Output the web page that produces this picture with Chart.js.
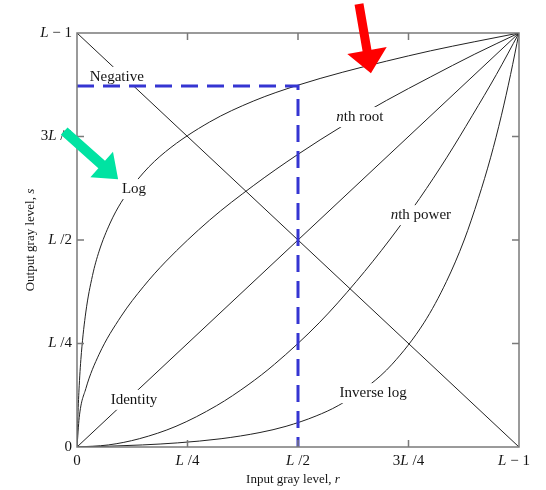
<!DOCTYPE html>
<html>
<head>
<meta charset="utf-8">
<script src="https://cdn.jsdelivr.net/npm/chart.js@4.4.1/dist/chart.umd.min.js"></script>
<style>
  html, body { margin: 0; padding: 0; background: #fff; }
  #wrap { width: 546px; height: 490px; }
</style>
</head>
<body>
<div id="wrap"><canvas id="c" width="546" height="490"></canvas></div>
<script>
// Gray-level transformation curves, input r and output s normalised to [0, L-1] -> [0, 1]
const tickValues = [0, 0.25, 0.5, 0.75, 1];
const tickLabels = ['0', '*L* /4', '*L* /2', '3*L* /4', '*L* − 1'];

const identityCurve = [{x: 0, y: 0}, {x: 1, y: 1}];
const negativeCurve = [{x: 0, y: 1}, {x: 1, y: 0}];

const logCurve = [
  {x: 0, y: 0}, {x: 0.002, y: 0.074}, {x: 0.005, y: 0.148}, {x: 0.01, y: 0.228},
  {x: 0.02, y: 0.326}, {x: 0.035, y: 0.414}, {x: 0.05, y: 0.473}, {x: 0.075, y: 0.541},
  {x: 0.1, y: 0.591}, {x: 0.15, y: 0.662}, {x: 0.2, y: 0.713}, {x: 0.3, y: 0.785},
  {x: 0.4, y: 0.836}, {x: 0.5, y: 0.874}, {x: 0.6, y: 0.905}, {x: 0.7, y: 0.932},
  {x: 0.8, y: 0.957}, {x: 0.9, y: 0.979}, {x: 1, y: 1}
];

const inverseLogCurve = [
  {x: 0, y: 0}, {x: 0.074, y: 0.002}, {x: 0.148, y: 0.005}, {x: 0.228, y: 0.01},
  {x: 0.326, y: 0.02}, {x: 0.414, y: 0.035}, {x: 0.473, y: 0.05}, {x: 0.541, y: 0.075},
  {x: 0.591, y: 0.1}, {x: 0.662, y: 0.15}, {x: 0.713, y: 0.2}, {x: 0.785, y: 0.3},
  {x: 0.836, y: 0.4}, {x: 0.876, y: 0.5}, {x: 0.908, y: 0.6}, {x: 0.936, y: 0.7},
  {x: 0.96, y: 0.8}, {x: 0.981, y: 0.9}, {x: 1, y: 1}
];

const nthRootCurve = [
  {x: 0, y: 0}, {x: 0.005, y: 0.071}, {x: 0.02, y: 0.141}, {x: 0.05, y: 0.224},
  {x: 0.1, y: 0.316}, {x: 0.15, y: 0.387}, {x: 0.2, y: 0.447}, {x: 0.3, y: 0.548},
  {x: 0.4, y: 0.632}, {x: 0.5, y: 0.707}, {x: 0.6, y: 0.775}, {x: 0.7, y: 0.837},
  {x: 0.8, y: 0.894}, {x: 0.9, y: 0.949}, {x: 1, y: 1}
];

const nthPowerCurve = [
  {x: 0, y: 0}, {x: 0.071, y: 0.005}, {x: 0.141, y: 0.02}, {x: 0.224, y: 0.05},
  {x: 0.316, y: 0.1}, {x: 0.387, y: 0.15}, {x: 0.447, y: 0.2}, {x: 0.548, y: 0.3},
  {x: 0.632, y: 0.4}, {x: 0.707, y: 0.5}, {x: 0.775, y: 0.6}, {x: 0.837, y: 0.7},
  {x: 0.894, y: 0.8}, {x: 0.949, y: 0.9}, {x: 1, y: 1}
];

// Guide: r = L/2 mapped through the log curve
const guideLine = [{x: 0, y: 0.872}, {x: 0.5, y: 0.872}, {x: 0.5, y: 0}];

const curveNames = ['Negative', 'Log', '*n*th root', 'Identity', '*n*th power', 'Inverse log'];

// Where each curve name sits (data units)
const curveLabelAnchors = [
  {x: 0.09, y: 0.894}, {x: 0.129, y: 0.623}, {x: 0.64, y: 0.797},
  {x: 0.129, y: 0.114}, {x: 0.778, y: 0.56}, {x: 0.67, y: 0.13}
];

// Pointer arrows (data units)
const arrows = [
  {from: {x: 0.638, y: 1.07}, to: {x: 0.665, y: 0.903}, color: '#ff0000', shaft: 9, headLen: 23, headHalf: 20},
  {from: {x: -0.029, y: 0.763}, to: {x: 0.093, y: 0.647}, color: '#00e3a2', shaft: 10, headLen: 22, headHalf: 17}
];

const GUIDE_INDEX = 6;
const SERIF = '"Liberation Serif", "DejaVu Serif", "Times New Roman", serif';
const INK = '#141414';

function richParts(t) {
  return t.split('*').map((s, i) => ({s, it: i % 2 === 1})).filter(p => p.s.length);
}
function fontFor(it, size) {
  return (it ? 'italic ' : '') + size + 'px ' + SERIF;
}
function measureRich(ctx, t, size) {
  let w = 0;
  const parts = richParts(t);
  parts.forEach(p => { ctx.font = fontFor(p.it, size); p.w = ctx.measureText(p.s).width; w += p.w; });
  return {parts, w};
}
function drawRich(ctx, t, x, y, size, align) {
  const {parts, w} = measureRich(ctx, t, size);
  let sx = align === 'right' ? x - w : align === 'left' ? x : x - w / 2;
  ctx.textAlign = 'left';
  ctx.textBaseline = 'middle';
  parts.forEach(p => { ctx.font = fontFor(p.it, size); ctx.fillText(p.s, sx, y); sx += p.w; });
  return w;
}

const framePlugin = {
  id: 'frame',
  beforeDatasetDraw(chart, args) {
    if (args.index !== GUIDE_INDEX) return;
    const {ctx, scales: {x, y}} = chart;
    ctx.save();
    // curve names on white patches, above the curves but below the guide
    curveNames.forEach((name, i) => {
      const px = x.getPixelForValue(curveLabelAnchors[i].x);
      const py = y.getPixelForValue(curveLabelAnchors[i].y);
      const {w} = measureRich(ctx, name, 15);
      ctx.fillStyle = '#fff';
      ctx.fillRect(px - w / 2 - 4, py - 10, w + 8, 20);
      ctx.fillStyle = INK;
      drawRich(ctx, name, px, py, 15, 'center');
    });
    ctx.restore();
  },
  afterDatasetsDraw(chart) {
    const {ctx, chartArea: a, scales: {x, y}} = chart;
    ctx.save();
    // frame and inward ticks
    ctx.strokeStyle = '#7a7a7a';
    ctx.lineWidth = 1.5;
    ctx.strokeRect(a.left, a.top, a.right - a.left, a.bottom - a.top);
    ctx.beginPath();
    tickValues.slice(1, -1).forEach(v => {
      const px = x.getPixelForValue(v), py = y.getPixelForValue(v);
      ctx.moveTo(px, a.bottom); ctx.lineTo(px, a.bottom - 7);
      ctx.moveTo(px, a.top); ctx.lineTo(px, a.top + 7);
      ctx.moveTo(a.left, py); ctx.lineTo(a.left + 7, py);
      ctx.moveTo(a.right, py); ctx.lineTo(a.right - 7, py);
    });
    ctx.stroke();
    ctx.restore();
  },
  afterDraw(chart) {
    const {ctx, chartArea: a, scales: {x, y}} = chart;
    ctx.save();
    ctx.fillStyle = INK;
    // tick labels
    tickValues.forEach((v, i) => {
      drawRich(ctx, tickLabels[i], a.left - 5, y.getPixelForValue(v), 15, 'right');
      const shift = i === tickValues.length - 1 ? -5 : 0;
      drawRich(ctx, tickLabels[i], x.getPixelForValue(v) + shift, a.bottom + 14, 15, 'center');
    });
    // axis titles
    drawRich(ctx, 'Input gray level, *r*', (a.left + a.right) / 2 - 5, a.bottom + 33, 13, 'center');
    ctx.save();
    ctx.translate(31, (a.top + a.bottom) / 2);
    ctx.rotate(-Math.PI / 2);
    drawRich(ctx, 'Output gray level, *s*', 0, 0, 13, 'center');
    ctx.restore();
    // arrows
    arrows.forEach(ar => {
      const x0 = x.getPixelForValue(ar.from.x), y0 = y.getPixelForValue(ar.from.y);
      const x1 = x.getPixelForValue(ar.to.x), y1 = y.getPixelForValue(ar.to.y);
      const len = Math.hypot(x1 - x0, y1 - y0);
      const ux = (x1 - x0) / len, uy = (y1 - y0) / len;
      const nx = -uy, ny = ux;
      const bx = x1 - ux * ar.headLen, by = y1 - uy * ar.headLen;
      const hs = ar.shaft / 2;
      ctx.fillStyle = ar.color;
      ctx.beginPath();
      ctx.moveTo(x0 + nx * hs, y0 + ny * hs);
      ctx.lineTo(bx + nx * hs, by + ny * hs);
      ctx.lineTo(bx + nx * ar.headHalf, by + ny * ar.headHalf);
      ctx.lineTo(x1, y1);
      ctx.lineTo(bx - nx * ar.headHalf, by - ny * ar.headHalf);
      ctx.lineTo(bx - nx * hs, by - ny * hs);
      ctx.lineTo(x0 - nx * hs, y0 - ny * hs);
      ctx.closePath();
      ctx.fill();
    });
    ctx.restore();
  }
};

function curve(data) {
  return {
    data, showLine: true, pointRadius: 0, borderColor: '#222', borderWidth: 1,
    cubicInterpolationMode: 'monotone', order: 2
  };
}

new Chart(document.getElementById('c'), {
  type: 'scatter',
  data: {
    datasets: [
      curve(negativeCurve), curve(logCurve), curve(nthRootCurve),
      curve(identityCurve), curve(nthPowerCurve), curve(inverseLogCurve),
      {data: guideLine, showLine: true, pointRadius: 0, borderColor: '#3535d2', borderWidth: 3,
       borderDash: [17, 9], tension: 0, order: 1, clip: false}
    ]
  },
  options: {
    responsive: false,
    animation: false,
    devicePixelRatio: 1,
    layout: {padding: {left: 77, right: 27, top: 33, bottom: 43}},
    scales: {
      x: {type: 'linear', min: 0, max: 1, display: false},
      y: {type: 'linear', min: 0, max: 1, display: false}
    },
    plugins: {legend: {display: false}, tooltip: {enabled: false}}
  },
  plugins: [framePlugin]
});
</script>
</body>
</html>
